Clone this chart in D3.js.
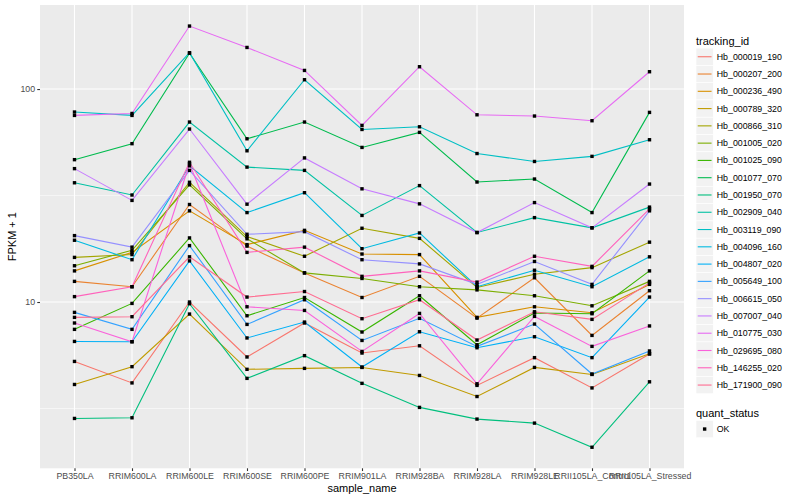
<!DOCTYPE html>
<html>
<head>
<meta charset="utf-8">
<script src="https://cdn.jsdelivr.net/npm/d3@7"></script>
<style>
  body { margin: 0; background: #fff; }
  svg { display: block; }
  text { font-family: "Liberation Sans", Arial, Helvetica, sans-serif; }
</style>
</head>
<body>
<svg id="chart" width="800" height="500"></svg>
<script>
// sample names on the x axis
const samples = ['PB350LA', 'RRIM600LA', 'RRIM600LE', 'RRIM600SE', 'RRIM600PE', 'RRIM901LA',
  'RRIM928BA', 'RRIM928LA', 'RRIM928LE', 'RRII105LA_Control', 'RRII105LA_Stressed']

const trackingIds = ['Hb_000019_190', 'Hb_000207_200', 'Hb_000236_490', 'Hb_000789_320', 'Hb_000866_310',
  'Hb_001005_020', 'Hb_001025_090', 'Hb_001077_070', 'Hb_001950_070', 'Hb_002909_040', 'Hb_003119_090',
  'Hb_004096_160', 'Hb_004807_020', 'Hb_005649_100', 'Hb_006615_050', 'Hb_007007_040', 'Hb_010775_030',
  'Hb_029695_080', 'Hb_146255_020', 'Hb_171900_090']

// FPKM + 1, one array per gene, in sample order
const hb_000019_190 = [5.26, 4.17, 10.0, 5.52, 7.97, 5.76, 6.23, 4.06, 5.48, 3.95, 5.70]
const hb_000207_200 = [12.5, 11.8, 28.7, 18.3, 13.7, 10.5, 13.2, 8.4, 13.0, 6.97, 11.3]
const hb_000236_490 = [14.0, 17.1, 26.8, 18.6, 21.7, 16.8, 16.7, 8.47, 9.5, 8.9, 12.1]
const hb_000789_320 = [4.10, 4.97, 8.78, 4.83, 4.88, 4.93, 4.52, 3.60, 4.93, 4.57, 5.72]
const hb_000866_310 = [16.2, 16.7, 36.5, 20.3, 16.4, 22.2, 19.9, 11.7, 13.5, 14.5, 19.1]
const hb_001005_020 = [14.8, 17.5, 35.5, 19.8, 13.7, 12.9, 11.8, 11.4, 10.7, 9.6, 12.5]
const hb_001025_090 = [7.44, 9.85, 20.0, 8.62, 10.5, 7.23, 10.7, 6.30, 8.88, 8.81, 14.0]
const hb_001077_070 = [46.6, 55.4, 147.3, 58.4, 70.0, 53.2, 62.6, 36.6, 37.8, 26.3, 77.7]
const hb_001950_070 = [2.84, 2.86, 9.82, 4.38, 5.60, 4.15, 3.20, 2.82, 2.70, 2.08, 4.22]
const hb_002909_040 = [36.3, 31.8, 70.0, 43.0, 41.5, 25.5, 35.2, 21.2, 24.9, 22.3, 27.9]
const hb_003119_090 = [78.0, 75.2, 148.1, 51.3, 110.6, 64.6, 66.5, 49.8, 45.7, 48.3, 57.8]
const hb_004096_160 = [19.5, 15.8, 43.6, 26.3, 32.6, 17.8, 21.1, 11.8, 14.1, 11.8, 16.3]
const hb_004807_020 = [6.53, 6.51, 15.6, 6.78, 8.05, 4.95, 7.25, 6.10, 6.87, 5.48, 10.55]
const hb_005649_100 = [8.94, 7.44, 18.4, 7.85, 10.25, 6.60, 8.38, 6.19, 7.88, 4.59, 5.89]
const hb_006615_050 = [20.5, 18.1, 41.5, 20.8, 21.4, 15.8, 15.1, 12.1, 15.5, 12.1, 26.8]
const hb_007007_040 = [42.3, 30.0, 64.9, 28.8, 47.5, 34.0, 28.9, 21.2, 29.3, 22.3, 35.8]
const hb_010775_030 = [75.2, 76.8, 197.6, 156.8, 122.3, 67.5, 127.3, 75.7, 74.7, 71.0, 120.6]
const hb_029695_080 = [7.97, 6.51, 44.6, 9.5, 9.13, 5.86, 8.84, 4.13, 8.56, 6.19, 7.72]
const hb_146255_020 = [10.6, 11.8, 45.3, 17.1, 18.1, 13.2, 14.0, 12.4, 16.4, 14.7, 27.4]
const hb_171900_090 = [8.47, 8.53, 16.3, 10.55, 11.2, 8.35, 10.25, 6.63, 9.0, 8.29, 12.3]

const yBreaks = [10, 100]
const yMinorBreaks = [Math.sqrt(10), Math.sqrt(1000)]

// ggplot's default hue palette for 20 levels
const colors = ['#F8766D', '#EA8331', '#D89000', '#C09B00', '#A3A500', '#7CAE00', '#39B600', '#00BB4E',
  '#00BF7D', '#00C1A3', '#00BFC4', '#00BAE0', '#00B0F6', '#35A2FF', '#9590FF', '#C77CFF', '#E76BF3',
  '#FA62DB', '#FF62BC', '#FF6C91']

const valueArrays = [hb_000019_190, hb_000207_200, hb_000236_490, hb_000789_320, hb_000866_310,
  hb_001005_020, hb_001025_090, hb_001077_070, hb_001950_070, hb_002909_040, hb_003119_090,
  hb_004096_160, hb_004807_020, hb_005649_100, hb_006615_050, hb_007007_040, hb_010775_030,
  hb_029695_080, hb_146255_020, hb_171900_090]

const series = trackingIds.map((id, i) => ({ id, color: colors[i], values: valueArrays[i] }))

const panel = { left: 40, right: 684, top: 5, bottom: 468.3 }

const svg = d3.select('#chart')

const x = d3.scalePoint().domain(samples).range([panel.left, panel.right]).padding(0.6)

// log scale with 5% expansion in log space, like ggplot
const allValues = series.flatMap(s => s.values)
const lo = Math.log10(d3.min(allValues))
const hi = Math.log10(d3.max(allValues))
const pad = (hi - lo) * 0.05
const y = d3.scaleLog().domain([10 ** (lo - pad), 10 ** (hi + pad)]).range([panel.bottom, panel.top])

// panel background + grid
svg.append('rect')
  .attr('x', panel.left).attr('y', panel.top)
  .attr('width', panel.right - panel.left).attr('height', panel.bottom - panel.top)
  .attr('fill', '#EBEBEB')

const grid = svg.append('g')
grid.selectAll('.minor')
  .data(yMinorBreaks)
  .enter().append('line')
  .attr('x1', panel.left).attr('x2', panel.right)
  .attr('y1', d => y(d)).attr('y2', d => y(d))
  .attr('stroke', '#fff').attr('stroke-width', 0.55)
grid.selectAll('.major')
  .data(yBreaks)
  .enter().append('line')
  .attr('x1', panel.left).attr('x2', panel.right)
  .attr('y1', d => y(d)).attr('y2', d => y(d))
  .attr('stroke', '#fff').attr('stroke-width', 1.1)
grid.selectAll('.vmajor')
  .data(samples)
  .enter().append('line')
  .attr('x1', d => x(d)).attr('x2', d => x(d))
  .attr('y1', panel.top).attr('y2', panel.bottom)
  .attr('stroke', '#fff').attr('stroke-width', 1.1)

// lines
const line = d3.line()
  .x((d, i) => x(samples[i]))
  .y(d => y(d))

svg.append('g')
  .selectAll('path')
  .data(series)
  .enter().append('path')
  .attr('d', s => line(s.values))
  .attr('fill', 'none')
  .attr('stroke', s => s.color)
  .attr('stroke-width', 1.1)

// points (quant_status = OK, square shape)
const pointSize = 3.4
svg.append('g')
  .selectAll('g')
  .data(series)
  .enter().append('g')
  .selectAll('rect')
  .data(s => s.values)
  .enter().append('rect')
  .attr('x', (d, i) => x(samples[i]) - pointSize / 2)
  .attr('y', d => y(d) - pointSize / 2)
  .attr('width', pointSize)
  .attr('height', pointSize)
  .attr('fill', '#000')

// axes
const yAxis = svg.append('g')
  .attr('transform', `translate(${panel.left},0)`)
  .call(d3.axisLeft(y).tickValues(yBreaks).tickFormat(d3.format('d')).tickSize(2.74).tickPadding(2.2))
const xAxis = svg.append('g')
  .attr('transform', `translate(0,${panel.bottom})`)
  .call(d3.axisBottom(x).tickSize(2.74).tickPadding(2.2))

for (const ax of [xAxis, yAxis]) {
  ax.select('.domain').remove()
  ax.selectAll('.tick line').attr('stroke', '#333').attr('stroke-width', 1.1)
  ax.selectAll('.tick text').attr('fill', '#4D4D4D').style('font-size', '8.8px')
    .style('font-family', '"Liberation Sans", Arial, sans-serif')
}

// axis titles
svg.append('text')
  .attr('x', (panel.left + panel.right) / 2).attr('y', 492)
  .attr('text-anchor', 'middle').style('font-size', '11px').attr('fill', '#000')
  .text('sample_name')
svg.append('text')
  .attr('transform', `translate(16,${(panel.top + panel.bottom) / 2}) rotate(-90)`)
  .attr('text-anchor', 'middle').style('font-size', '11px').attr('fill', '#000')
  .text('FPKM + 1')

// legend: tracking_id
const keySize = 17.28
const legendX = 696
const legend = svg.append('g')
legend.append('text')
  .attr('x', legendX).attr('y', 44.5)
  .style('font-size', '11px').attr('fill', '#000')
  .text('tracking_id')

const keys = legend.selectAll('g.key')
  .data(series)
  .enter().append('g')
  .attr('transform', (d, i) => `translate(${legendX},${48.1 + i * keySize})`)
keys.append('rect')
  .attr('width', keySize).attr('height', keySize)
  .attr('fill', '#F2F2F2').attr('stroke', '#fff').attr('stroke-width', 0.6)
keys.append('line')
  .attr('x1', keySize * 0.1).attr('x2', keySize * 0.9)
  .attr('y1', keySize / 2).attr('y2', keySize / 2)
  .attr('stroke', d => d.color).attr('stroke-width', 1.1)
keys.append('text')
  .attr('x', keySize + 3.5).attr('y', keySize / 2).attr('dy', '0.35em')
  .style('font-size', '8.8px').attr('fill', '#000')
  .text(d => d.id)

// legend: quant_status
legend.append('text')
  .attr('x', legendX).attr('y', 416.5)
  .style('font-size', '11px').attr('fill', '#000')
  .text('quant_status')
const okKey = legend.append('g').attr('transform', `translate(${legendX},420.4)`)
okKey.append('rect')
  .attr('width', keySize).attr('height', keySize)
  .attr('fill', '#F2F2F2').attr('stroke', '#fff').attr('stroke-width', 0.6)
okKey.append('rect')
  .attr('x', keySize / 2 - pointSize / 2).attr('y', keySize / 2 - pointSize / 2)
  .attr('width', pointSize).attr('height', pointSize).attr('fill', '#000')
okKey.append('text')
  .attr('x', keySize + 3.5).attr('y', keySize / 2).attr('dy', '0.35em')
  .style('font-size', '8.8px').attr('fill', '#000')
  .text('OK')
</script>
</body>
</html>
